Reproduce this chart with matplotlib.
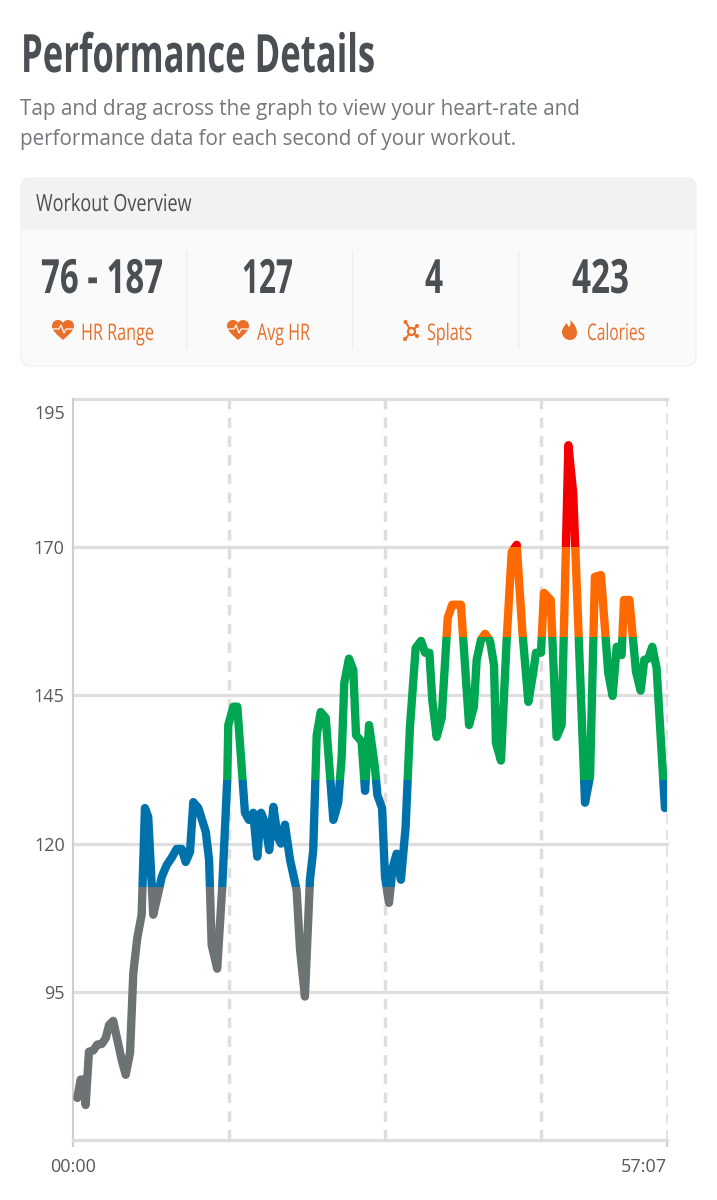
import matplotlib
matplotlib.use('Agg')
from matplotlib import pyplot as plt
from matplotlib.patches import Rectangle, FancyBboxPatch, Circle, PathPatch
from matplotlib.path import Path
from matplotlib.patheffects import AbstractPathEffect
from matplotlib.transforms import Affine2D

seconds = [25, 44, 59, 73, 92, 117, 140, 166, 189, 208, 232, 256, 281, 304, 329, 348, 371, 396, 415, 434,
           463, 492, 512, 541, 569, 598, 627, 650, 675, 694, 723, 766, 785, 800, 832, 861, 890, 896, 925, 948,
           992, 1015, 1040, 1063, 1085, 1108, 1132, 1156, 1181, 1200, 1223, 1252, 1290, 1310, 1338, 1367, 1386, 1406, 1429, 1458,
           1502, 1530, 1550, 1565, 1592, 1617, 1633, 1665, 1685, 1708, 1742, 1756, 1783, 1800, 1823, 1844, 1867, 1892, 1919, 1944,
           1977, 2008, 2031, 2056, 2073, 2098, 2127, 2146, 2162, 2188, 2238, 2285, 2313, 2329, 2354, 2377, 2406, 2429, 2440, 2469,
           2502, 2531, 2560, 2592, 2627, 2655, 2671, 2700, 2717, 2756, 2790, 2819, 2858, 2886, 2954, 2983, 3011, 3046, 3088, 3113,
           3137, 3165, 3179, 3210, 3248, 3275, 3296, 3319, 3342, 3367, 3415]
heart_rate = [77.1, 80.2, 80.2, 75.9, 84.9, 85.1, 86.1, 86.2, 87.2, 89.4, 90.1, 86.9, 83.5, 81, 84.7, 98.2, 104.1, 108, 126, 124.5,
              108, 111.7, 114.4, 116.4, 117.6, 119.1, 119.1, 116.9, 118.6, 127, 126, 122, 117.3, 102.9, 98.9, 112.7, 130.8, 140, 143.1, 143.1,
              125.2, 124, 125.2, 117.8, 125.2, 123.5, 118.9, 126.2, 121.1, 120, 123.2, 117.3, 112.2, 102.1, 94.2, 113.9, 118.9, 138.3, 142.2, 141.2,
              124, 126.9, 134.6, 147.1, 151.2, 149.3, 138.3, 137.2, 128.9, 140, 132.9, 128.2, 126, 114.4, 110, 115.9, 118.3, 113.9, 122.8, 139.7,
              153, 154.2, 152.2, 152.2, 144.2, 138, 141.2, 150.5, 158.1, 160.3, 160.3, 140, 143.1, 151, 154.4, 155.4, 154.2, 150.1, 137, 134,
              154.4, 169.2, 170.4, 156, 143.9, 148.8, 152.2, 152.2, 162.3, 161.1, 138, 140, 187.2, 179.1, 126.9, 131.3, 165, 165.3, 148.8, 144.9,
              153.2, 151.8, 161.1, 161.1, 149, 145.8, 151, 151.2, 153.2, 149.6, 126]

zone_limits = [60, 112.7, 130.8, 154.9, 170, 200]
zone_colors = ['#6d7275', '#0072ab', '#00a651', '#ff6a00', '#f50000']
y_ticks = [70, 95, 120, 145, 170]
y_labels = ['', '95', '120', '145', '170']
top_value = 195
dash_times = [900, 1800, 2700]
end_time = 3427

stat_values = ['76 - 187', '127', '4', '423']
stat_names = ['HR Range', 'Avg HR', 'Splats', 'Calories']

plt.rcParams['font.family'] = ['Open Sans', 'DejaVu Sans']

DARK = '#4a4f53'
ORANGE = '#e8702a'
GRID = '#dedede'


class Squeeze(AbstractPathEffect):
    # no condensed font installed, so narrow the glyphs around the text's left edge
    def __init__(self, x0, sx):
        super().__init__()
        self.x0 = x0
        self.sx = sx

    def draw_path(self, renderer, gc, tpath, affine, rgbFace=None):
        squeeze = Affine2D().translate(-self.x0, 0).scale(self.sx, 1).translate(self.x0, 0)
        renderer.draw_path(gc, tpath, affine + squeeze, rgbFace)


def narrow_text(x, baseline, s, size, width, color, weight='normal'):
    txt = page.text(x, baseline, s, fontsize=size, fontweight=weight, color=color, va='baseline')
    full = txt.get_window_extent(fig.canvas.get_renderer()).width
    txt.set_path_effects([Squeeze(x, width / full)])
    return txt


def heart(x, y):
    # x, y is the top left corner of a 22x20 icon
    verts = [(x + 11, y + 20), (x + 4, y + 14), (x, y + 10), (x, y + 6), (x, y + 2), (x + 3, y), (x + 6, y),
             (x + 8, y), (x + 10, y + 1), (x + 11, y + 3), (x + 12, y + 1), (x + 14, y), (x + 16, y),
             (x + 19, y), (x + 22, y + 2), (x + 22, y + 6), (x + 22, y + 10), (x + 18, y + 14), (x + 11, y + 20)]
    codes = [Path.MOVETO] + [Path.CURVE4] * 18
    page.add_patch(PathPatch(Path(verts, codes), fc=ORANGE, ec='none'))
    page.plot([x + 1, x + 7, x + 9, x + 12, x + 14, x + 21],
              [y + 9, y + 9, y + 5, y + 13, y + 9, y + 9], color='#fafafa', lw=0.9)


fig = plt.figure(figsize=(7.17, 12), dpi=100)

# page layer, in pixels
page = fig.add_axes([0, 0, 1, 1])
page.set_xlim(0, 717)
page.set_ylim(1200, 0)
page.axis('off')

narrow_text(21, 72, 'Performance Details', 38, 354, DARK, 'bold')
page.text(20, 109, 'Tap and drag across the graph to view your heart-rate and', fontsize=14.9, color='#73787c', va='center')
page.text(20, 139, 'performance data for each second of your workout.', fontsize=14.9, color='#73787c', va='center')

# overview card
page.add_patch(FancyBboxPatch((21, 178), 675, 188, boxstyle='round,pad=0,rounding_size=10',
                              fc='#fafafa', ec='#f0f0f0', lw=1))
page.add_patch(FancyBboxPatch((21, 178), 675, 52, boxstyle='round,pad=0,rounding_size=10', fc='#f2f2f2', ec='none'))
page.add_patch(Rectangle((21, 215), 675, 15, fc='#f2f2f2', ec='none'))
narrow_text(36, 211, 'Workout Overview', 17, 156, DARK)

for sep in [186, 352, 518]:
    page.plot([sep, sep], [250, 349], color='#eeeeee', lw=1)

value_left = [41, 242, 425, 572]
value_width = [122, 51, 18, 57]
name_left = [81, 257, 427, 587]
name_width = [73, 53, 45, 58]
for i in range(4):
    narrow_text(value_left[i], 293, stat_values[i], 34, value_width[i], DARK, 'bold')
    narrow_text(name_left[i], 340, stat_names[i], 16.5, name_width[i], ORANGE)

# icons
heart(52, 320)
heart(227, 320)
sx, sy = 411.5, 331.5
for ex, ey in [(405.5, 322), (417, 326), (405, 339), (417, 336)]:
    page.plot([sx, ex], [sy, ey], color=ORANGE, lw=1.4)
    page.add_patch(Circle((ex, ey), 2, fc=ORANGE, ec='none'))
page.add_patch(Circle((sx, sy), 3.5, fc='#fafafa', ec=ORANGE, lw=1.6, zorder=3))
flame = Path([(570, 340), (565, 340), (562, 336), (562, 332), (562, 328), (565, 326), (566, 323),
              (568, 325), (568, 326), (569, 327), (571, 325), (571, 322), (570, 320),
              (574, 323), (577, 328), (577, 333), (577, 337), (574, 340), (570, 340)],
             [Path.MOVETO] + [Path.CURVE4] * 18)
page.add_patch(PathPatch(flame, fc=ORANGE, ec='none'))

# chart
ax = fig.add_axes([73 / 717, 1 - 1140 / 1200, 594 / 717, 741 / 1200])
ax.set_xlim(0, end_time)
ax.set_ylim(70, top_value)
ax.patch.set_alpha(0)

for y in y_ticks[1:] + [top_value]:
    ax.axhline(y, color=GRID, lw=2.3, zorder=1, clip_on=False)
for t in dash_times:
    ax.axvline(t, color=GRID, lw=2.5, ls=(0, (3, 2.4)), zorder=1, clip_on=False)
ax.axvline(end_time, color=GRID, lw=1.2, ls=(0, (6, 4)), zorder=1, clip_on=False)

for i in range(len(zone_colors)):
    line, = ax.plot(seconds, heart_rate, color=zone_colors[i], lw=6, solid_joinstyle='round',
                    solid_capstyle='round', zorder=3)
    band = Rectangle((0, zone_limits[i]), end_time, zone_limits[i + 1] - zone_limits[i], transform=ax.transData)
    line.set_clip_path(band)

ax.set_yticks(y_ticks, y_labels)
ax.set_xticks([0, end_time], ['00:00', '57:07'])
ax.tick_params(axis='y', length=0, pad=6, labelsize=13, labelcolor='#55595c')
ax.tick_params(axis='x', length=5, width=1.5, color='#cfcfcf', pad=8, labelsize=13, labelcolor='#55595c')
ax.get_xticklabels()[1].set_ha('right')
# top label sits under its grid line
ax.annotate(str(top_value), xy=(0, top_value), xytext=(-6, -10.5), textcoords='offset points',
            ha='right', va='center', fontsize=13, color='#55595c')

for side in ['top', 'right']:
    ax.spines[side].set_visible(False)
ax.spines['left'].set_color('#cfcfcf')
ax.spines['bottom'].set_color(GRID)
ax.spines['left'].set_linewidth(1.5)
ax.spines['bottom'].set_linewidth(2.3)

fig.savefig('out.png', dpi=100)
plt.close(fig)
